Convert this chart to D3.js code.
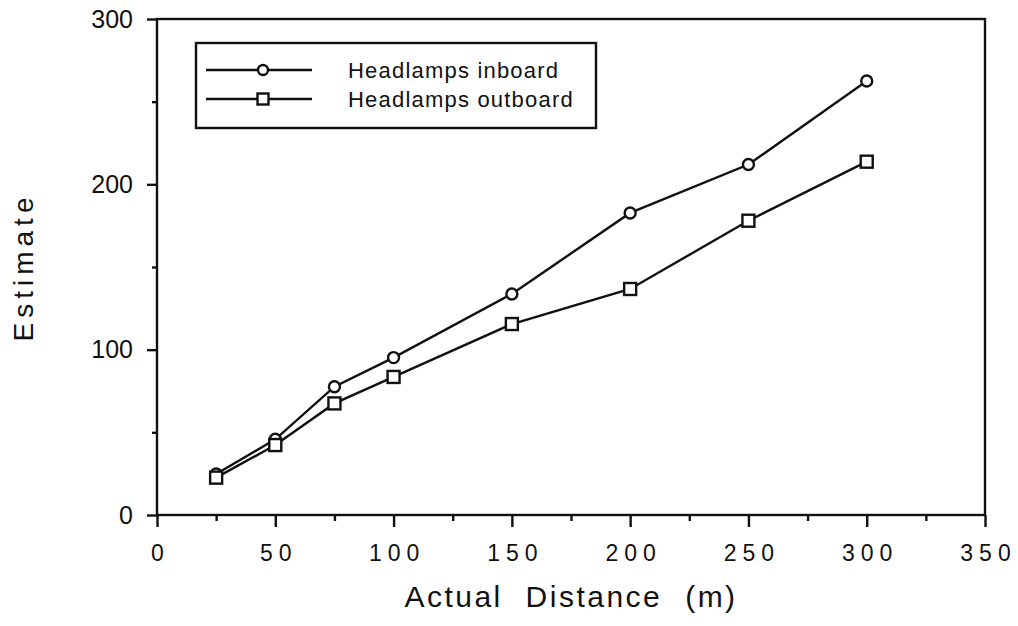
<!DOCTYPE html>
<html>
<head>
<meta charset="utf-8">
<script src="https://cdn.jsdelivr.net/npm/d3@7"></script>
<style>
  body { margin: 0; background: #fff; }
  svg text { font-family: "Liberation Sans", Arial, sans-serif; fill: #111; }
</style>
</head>
<body>
<svg id="chart" width="1018" height="626"></svg>
<script>
// ===== data =====
const distances = [25, 50, 75, 100, 150, 200, 250, 300]
const inboard = [24.8, 45.8, 77.6, 95.2, 133.7, 182.7, 212, 262.5]
const outboard = [22.6, 42.3, 67.5, 83.5, 115.5, 136.7, 178, 213.7]
const seriesNames = ["Headlamps inboard", "Headlamps outboard"]
const xTicks = [0, 50, 100, 150, 200, 250, 300, 350]
const xMinor = [25, 75, 125, 175, 225, 275, 325]
const yTicks = [0, 100, 200, 300]
const yMinor = [50, 150, 250]

const svg = d3.select("#chart")
const plotLeft = 157, plotRight = 985, plotTop = 19, plotBottom = 515

const x = d3.scaleLinear().domain([0, 350]).range([plotLeft, plotRight])
const y = d3.scaleLinear().domain([0, 300]).range([plotBottom, plotTop])

const ink = "#111"
const sw = 2.4

// ===== frame =====
svg.append("rect")
  .attr("x", plotLeft).attr("y", plotTop)
  .attr("width", plotRight - plotLeft).attr("height", plotBottom - plotTop)
  .attr("fill", "none").attr("stroke", ink).attr("stroke-width", sw)

// x axis
const xSpacing = 6
const xAxis = svg.append("g").attr("transform", `translate(0,${plotBottom})`)
  .call(d3.axisBottom(x).tickValues(xTicks).tickSize(12).tickFormat(d3.format("d")))
xAxis.select(".domain").remove()
xAxis.selectAll("line").attr("stroke", ink).attr("stroke-width", sw)
xAxis.selectAll("text")
  .attr("font-size", 23).attr("letter-spacing", xSpacing)
  .attr("y", 46).attr("dy", null).attr("dx", xSpacing / 2)
svg.append("g").attr("transform", `translate(0,${plotBottom})`)
  .call(d3.axisBottom(x).tickValues(xMinor).tickSize(6).tickFormat(""))
  .call(g => g.select(".domain").remove())
  .selectAll("line").attr("stroke", ink).attr("stroke-width", sw)

// y axis
const yAxis = svg.append("g").attr("transform", `translate(${plotLeft},0)`)
  .call(d3.axisLeft(y).tickValues(yTicks).tickSize(10).tickPadding(14).tickFormat(d3.format("d")))
yAxis.select(".domain").remove()
yAxis.selectAll("line").attr("stroke", ink).attr("stroke-width", sw)
yAxis.selectAll("text").attr("font-size", 25)
svg.append("g").attr("transform", `translate(${plotLeft},0)`)
  .call(d3.axisLeft(y).tickValues(yMinor).tickSize(5).tickFormat(""))
  .call(g => g.select(".domain").remove())
  .selectAll("line").attr("stroke", ink).attr("stroke-width", sw)

// axis titles
svg.append("text")
  .attr("x", 571).attr("y", 607)
  .attr("text-anchor", "middle").attr("font-size", 30)
  .attr("letter-spacing", 2.5).attr("word-spacing", 12)
  .text("Actual Distance (m)")
svg.append("text")
  .attr("transform", `translate(33,${(plotTop + plotBottom) / 2}) rotate(-90)`)
  .attr("text-anchor", "middle").attr("font-size", 28).attr("letter-spacing", 5)
  .text("Estimate")

// ===== series =====
const line = d3.line().x((d, i) => x(distances[i])).y(d => y(d))

function drawSeries(values, shape) {
  svg.append("path").datum(values)
    .attr("d", line).attr("fill", "none")
    .attr("stroke", ink).attr("stroke-width", sw)
  const g = svg.append("g")
  if (shape == "circle") {
    g.selectAll("circle").data(values).join("circle")
      .attr("cx", (d, i) => x(distances[i])).attr("cy", d => y(d)).attr("r", 5.5)
      .attr("fill", "#fff").attr("stroke", ink).attr("stroke-width", sw)
  } else {
    g.selectAll("rect").data(values).join("rect")
      .attr("x", (d, i) => x(distances[i]) - 6).attr("y", d => y(d) - 6)
      .attr("width", 12).attr("height", 12)
      .attr("fill", "#fff").attr("stroke", ink).attr("stroke-width", sw)
  }
}
drawSeries(inboard, "circle")
drawSeries(outboard, "square")

// ===== legend =====
const legend = svg.append("g")
legend.append("rect")
  .attr("x", 196).attr("y", 43).attr("width", 400).attr("height", 85)
  .attr("fill", "#fff").attr("stroke", ink).attr("stroke-width", sw)
seriesNames.forEach((name, i) => {
  const ly = 70 + i * 29
  legend.append("line").attr("x1", 206).attr("x2", 312).attr("y1", ly).attr("y2", ly)
    .attr("stroke", ink).attr("stroke-width", sw)
  if (i == 0) {
    legend.append("circle").attr("cx", 263).attr("cy", ly).attr("r", 5)
      .attr("fill", "#fff").attr("stroke", ink).attr("stroke-width", sw)
  } else {
    legend.append("rect").attr("x", 257.5).attr("y", ly - 5.5).attr("width", 11).attr("height", 11)
      .attr("fill", "#fff").attr("stroke", ink).attr("stroke-width", sw)
  }
  legend.append("text").attr("x", 348).attr("y", ly + 8)
    .attr("font-size", 22).attr("letter-spacing", 1.2).text(name)
})
</script>
</body>
</html>
